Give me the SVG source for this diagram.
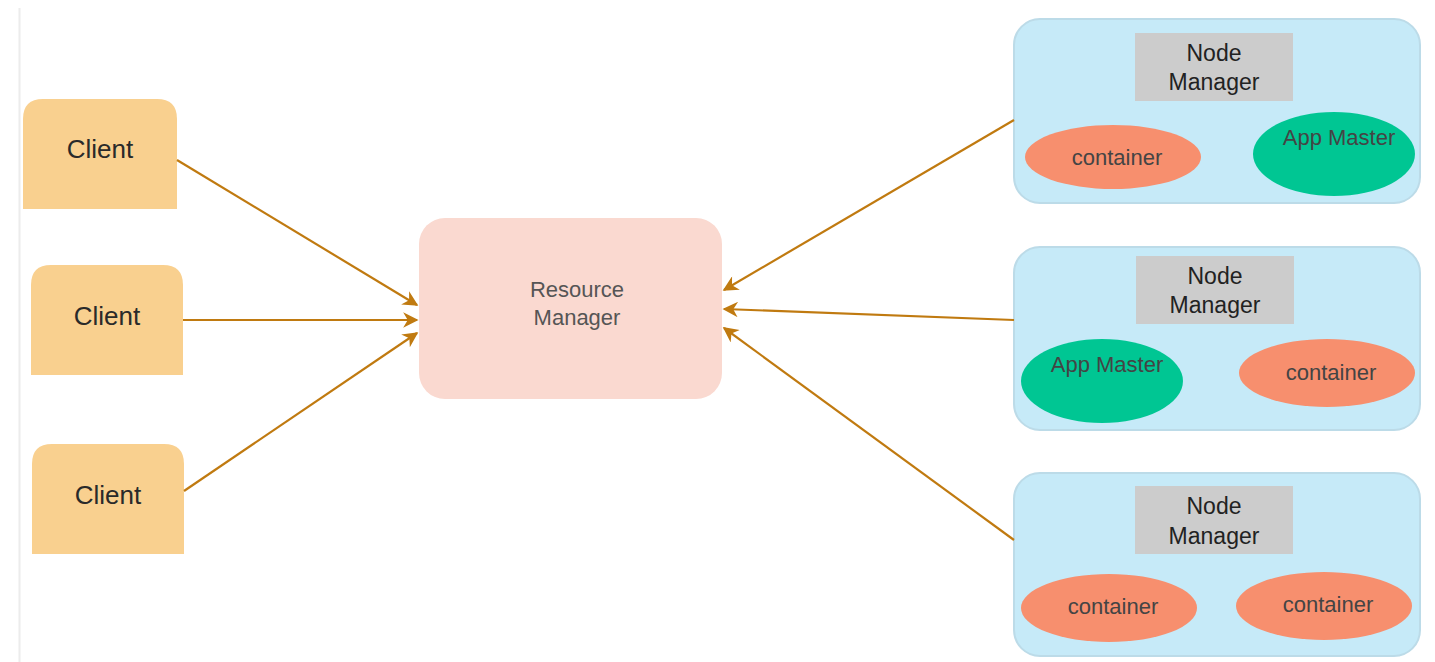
<svg xmlns="http://www.w3.org/2000/svg" width="1435" height="662" viewBox="0 0 1435 662">
<style>
.client{fill:#f9d08f}
.ct{font-family:"Liberation Sans",Arial,sans-serif;font-size:26px;fill:#2a2a2a;text-anchor:middle}
.rm{fill:#fad9d0}
.rmt{font-family:"Liberation Sans",Arial,sans-serif;font-size:22px;fill:#555;text-anchor:middle}
.nm{fill:#c6eaf8;stroke:#bcdbe8;stroke-width:2}
.nmr{fill:#cccccc}
.nmt{font-family:"Liberation Sans",Arial,sans-serif;font-size:23px;fill:#222;text-anchor:middle}
.cont{fill:#f78f6e}
.am{fill:#00c693}
.et{font-family:"Liberation Sans",Arial,sans-serif;font-size:22px;fill:#444;text-anchor:middle}
.edge{stroke:#c07a10;stroke-width:2.2;fill:none;marker-end:url(#ah)}
</style>
<defs>
<marker id="ah" viewBox="0 0 10 10" refX="9" refY="5" markerWidth="8.5" markerHeight="7" orient="auto" markerUnits="strokeWidth">
<path d="M0,0 L10,5 L0,10 L3,5 Z" fill="#c07a10"/>
</marker>
</defs>
<rect width="1435" height="662" fill="#ffffff"/>
<line x1="19.5" y1="8" x2="19.5" y2="662" stroke="#ececec" stroke-width="2"/>

<g id="client1">
<path class="client" d="M23,209 V119 Q23,99 43,99 H157 Q177,99 177,119 V209 Z"/>
<text class="ct" x="100" y="158">Client</text>
</g>
<g id="client2">
<path class="client" d="M31,375 V285 Q31,265 51,265 H163 Q183,265 183,285 V375 Z"/>
<text class="ct" x="107" y="325">Client</text>
</g>
<g id="client3">
<path class="client" d="M32,554 V464 Q32,444 52,444 H164 Q184,444 184,464 V554 Z"/>
<text class="ct" x="108" y="504">Client</text>
</g>

<g id="resource-manager">
<rect class="rm" x="419" y="218" width="303" height="181" rx="26"/>
<text class="rmt" x="577" y="297">Resource</text>
<text class="rmt" x="577" y="325">Manager</text>
</g>

<g id="node-manager-1">
<rect class="nm" x="1014" y="19" width="406" height="184" rx="26"/>
<rect class="nmr" x="1135" y="33" width="158" height="68"/>
<text class="nmt" x="1214" y="61">Node</text>
<text class="nmt" x="1214" y="90">Manager</text>
<ellipse class="cont" cx="1113" cy="157" rx="88" ry="32"/>
<text class="et" x="1117" y="165">container</text>
<ellipse class="am" cx="1334" cy="154" rx="81" ry="42"/>
<text class="et" x="1339" y="145">App Master</text>
</g>

<g id="node-manager-2">
<rect class="nm" x="1014" y="247" width="406" height="183" rx="26"/>
<rect class="nmr" x="1136" y="256" width="158" height="68"/>
<text class="nmt" x="1215" y="284">Node</text>
<text class="nmt" x="1215" y="313">Manager</text>
<ellipse class="am" cx="1102" cy="381" rx="81" ry="42"/>
<text class="et" x="1107" y="372">App Master</text>
<ellipse class="cont" cx="1327" cy="373" rx="88" ry="34"/>
<text class="et" x="1331" y="380">container</text>
</g>

<g id="node-manager-3">
<rect class="nm" x="1014" y="473" width="406" height="183" rx="26"/>
<rect class="nmr" x="1135" y="486" width="158" height="68"/>
<text class="nmt" x="1214" y="514">Node</text>
<text class="nmt" x="1214" y="544">Manager</text>
<ellipse class="cont" cx="1109" cy="608" rx="88" ry="34"/>
<text class="et" x="1113" y="614">container</text>
<ellipse class="cont" cx="1324" cy="606" rx="88" ry="34"/>
<text class="et" x="1328" y="612">container</text>
</g>

<g id="connectors">
<line class="edge" x1="177" y1="160" x2="417" y2="305"/>
<line class="edge" x1="183" y1="320" x2="417" y2="320"/>
<line class="edge" x1="184" y1="491" x2="417" y2="333"/>
<line class="edge" x1="1014" y1="120" x2="724" y2="290"/>
<line class="edge" x1="1014" y1="320" x2="724" y2="309"/>
<line class="edge" x1="1014" y1="540" x2="724" y2="328"/>
</g>
</svg>
